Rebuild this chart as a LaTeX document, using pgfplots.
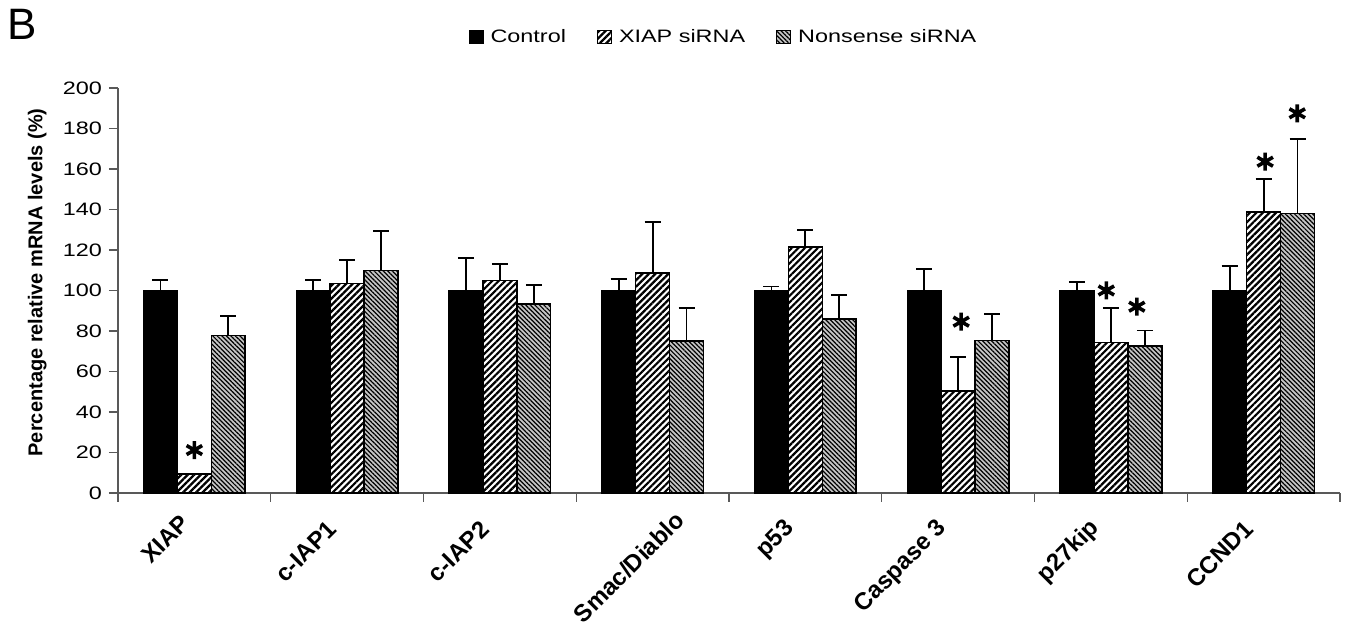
\documentclass[border=0pt]{standalone}
\usepackage{fontspec}
\setmainfont{Liberation Sans}[FakeStretch=1.3]
\newfontfamily\plainfont{Liberation Sans}
\usepackage{pgfplots}
\usepackage{pgfplotstable}
\pgfplotsset{compat=1.18}
\usetikzlibrary{patterns.meta}

\pgfplotstableread{
x v e
0 100 5
1 100 5
2 100 16
3 100 5.7
4 100 2
5 100 10.6
6 100 4.2
7 100 12
}\ctrl
\pgfplotstableread{
x v e
0 9.5 0
1 103.5 11.5
2 105 8
3 108.6 25.2
4 121.5 8.5
5 50.4 16.9
6 74.4 17
7 138.8 16.1
}\xiap
\pgfplotstableread{
x v e
0 77.7 9.9
1 109.8 19.7
2 93.3 9.4
3 75 16.4
4 86 11.8
5 75.2 13
6 72.7 7.5
7 137.9 37.1
}\nons
\pgfplotstableread{
x y
0 21.2
5.02 84.6
5.97 100
6.17 92
7.01 163.6
7.22 187.5
}\stars

\pgfplotsset{
  common/.style={at={(0,0)}, anchor=south west,
    scale only axis, width=611pt, height=202.5pt,
    xmin=-0.5, xmax=7.5, ymin=0, ymax=200,
    enlargelimits=false, clip=false},
  ebar/.style={error bars/.cd, y dir=plus, y explicit,
    error bar style={line width=0.9pt, black, solid},
    error mark options={rotate=90, line width=0.9pt, mark size=4pt, black, solid}},
}

\begin{document}
\begin{tikzpicture}
\path[use as bounding box] (-59pt,-68.5pt) rectangle (615.5pt,246.5pt);
\node[font=\plainfont\fontsize{22}{22}\selectfont, inner sep=0pt] at (-47.75pt,234.5pt) {B};
\begin{axis}[
  common,
  ybar, bar width=0.222,
  ytick={0,20,...,200},
  xtick={-0.5,0.5,...,7.5},
  x tick label as interval,
  xticklabels={{XIAP\hspace*{-4pt}},c-IAP1,c-IAP2,{\raisebox{-16pt}[0pt][0pt]{Smac/Diablo}\hspace*{-18pt}},p53,Caspase 3,p27kip,CCND1},
  axis x line*=bottom, axis y line*=left,
  axis line style={-, gray!70!black, line width=0.6pt},
  tick align=outside, major tick length=4.5pt,
  tick style={gray!70!black, line width=0.6pt},
  yticklabel style={font=\fontsize{9}{10}\selectfont, /pgf/number format/assume math mode=true},
  xticklabel style={font=\plainfont\bfseries\fontsize{12}{13}\selectfont, xshift=-5pt, yshift=-9pt, rotate=45, anchor=east},
  ylabel={Percentage relative mRNA levels (\%)},
  ylabel style={font=\plainfont\bfseries\fontsize{10}{11}\selectfont, at={(axis description cs:-0.066,0.52)}, anchor=center},
  legend style={at={(0.4975,1.1235)}, anchor=center, draw=none, fill=none,
    font=\fontsize{9}{10}\selectfont, legend columns=3,
    /tikz/every even column/.append style={column sep=12pt},
    legend cell align=left, inner sep=0pt,
    nodes={inner xsep=3.5pt}},
  legend image code/.code={\draw[#1, line width=0.5pt] (0pt,-3pt) rectangle (7pt,3.5pt);},
]
\addplot[bar shift=-0.222, fill=black, draw=black, line width=0.75pt, ebar]
  table[x=x, y=v, y error=e] {\ctrl};
\addlegendentry{Control}
\addplot[bar shift=0, fill=white, draw=black, line width=0.75pt,
  postaction={pattern={Lines[angle=45,distance=2.3pt,line width=1.1pt]}}, ebar]
  table[x=x, y=v, y error=e] {\xiap};
\addlegendentry{XIAP siRNA}
\addplot[bar shift=0.222, fill=gray!45, draw=black, line width=0.75pt,
  postaction={pattern={Lines[angle=-45,distance=1.6pt,line width=0.6pt]}}, ebar]
  table[x=x, y=v, y error=e] {\nons};
\addlegendentry{Nonsense siRNA}
\end{axis}
\begin{axis}[common, hide axis]
\addplot[only marks, mark=asterisk, mark size=4.5pt, line width=1.8pt, black]
  table[x=x, y=y] {\stars};
\end{axis}
\end{tikzpicture}
\end{document}
